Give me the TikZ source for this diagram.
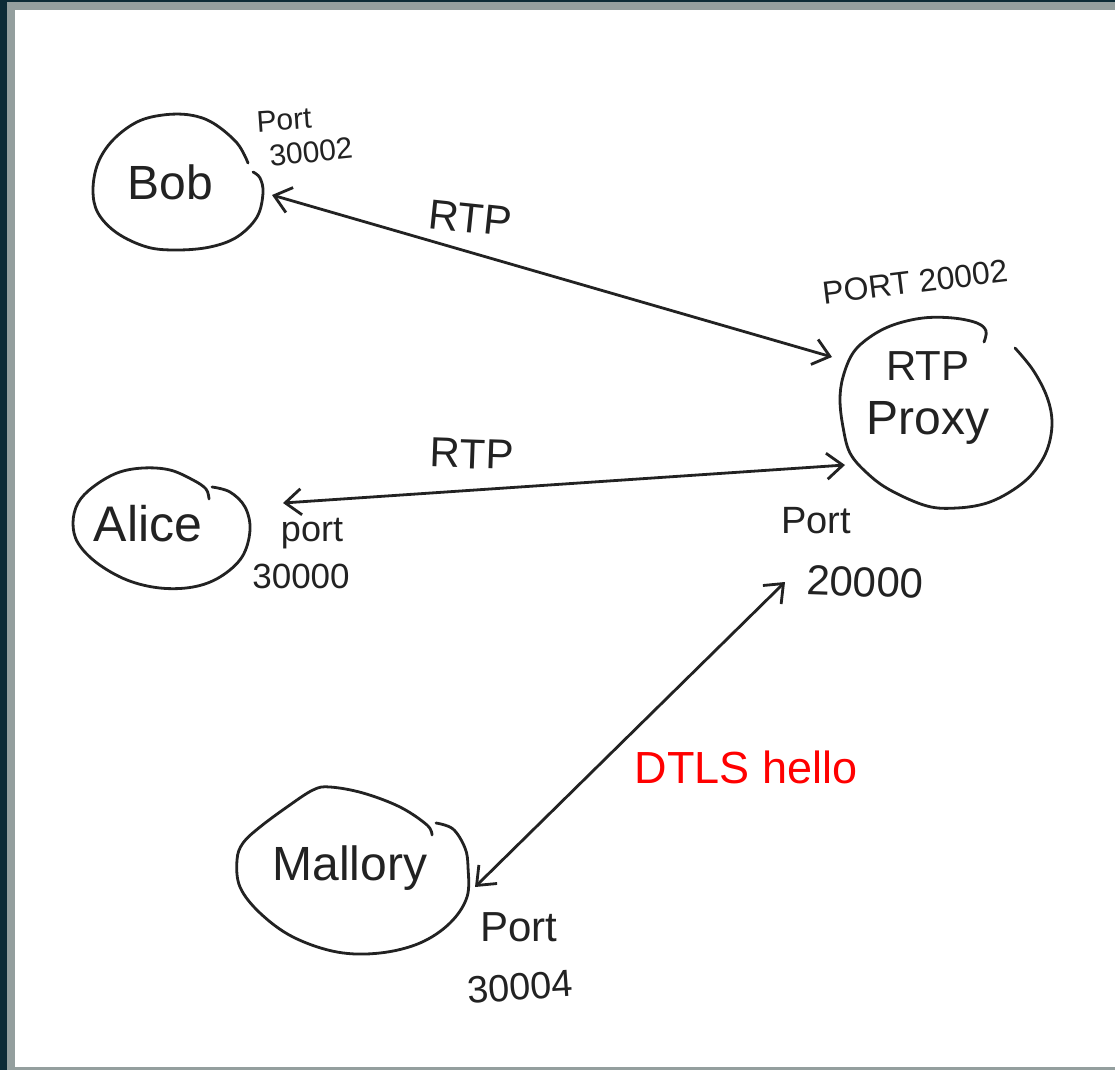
\documentclass[tikz,border=0pt]{standalone}
\usepackage{fontspec}
\setmainfont{Liberation Sans}
\usetikzlibrary{arrows.meta,calc,shapes.geometric}
\definecolor{ink}{HTML}{222222}
\definecolor{frameouter}{HTML}{0C2B36}
\definecolor{framegray}{HTML}{949F9E}
\definecolor{hello}{HTML}{FF0000}
\newcommand\hsz[1]{\fontsize{#1}{#1}\selectfont}

\begin{document}
\begin{tikzpicture}[x=1pt,y=-1pt,
  blob/.style={ellipse, draw=none, inner sep=0pt, text=ink},
  outline/.style={draw=ink, line width=2.8pt, line cap=round, line join=round},
  link/.style={draw=ink, line width=2.8pt, line cap=round,
    {Straight Barb[length=16pt,width=26pt]}-{Straight Barb[length=16pt,width=26pt]}},
  note/.style={text=ink, inner sep=0pt}]

% page frame
\useasboundingbox (0,0) rectangle (1115,1070);
\fill[frameouter] (0,0) rectangle (1115,1070);
\fill[framegray] (7,2) rectangle (1115,1070);
\fill[white] (15,10) rectangle (1115,1067);

% hosts
\node[blob, minimum width=174pt, minimum height=136pt, font=\hsz{48}] (bob) at (170,182) {Bob};
\node[blob, minimum width=178pt, minimum height=120pt, font=\hsz{50}] (alice) at (148,524) {Alice};
\node[blob, minimum width=232pt, minimum height=166pt, font=\hsz{48}] (mallory) at (350,868) {Mallory};
\node[blob, minimum width=212pt, minimum height=190pt, align=center, font=\hsz{48}] (proxy) at (928,398)
  {{\hsz{42}RTP}\\[6pt]Proxy};

% hand-drawn outlines
\draw[outline] plot[smooth, tension=0.6] coordinates {
  (248,163) (237,143) (213,123) (190,115) (163,115) (137,122) (113,140) (98,163)
  (93,190) (98,213) (117,233) (147,247) (177,250) (210,247) (237,237) (257,217)
  (263,193) (260,178) (253,172)};
\draw[outline] plot[smooth, tension=0.6] coordinates {
  (209,499) (206,489) (193,480) (170,470) (143,468) (117,473) (93,487) (78,503)
  (73,523) (78,543) (97,563) (127,580) (160,588) (193,587) (220,577) (242,557)
  (250,530) (245,507) (230,492) (212,487)};
\draw[outline] plot[smooth, tension=0.6] coordinates {
  (984,342) (986,331) (977,323) (953,318) (923,318) (893,325) (870,337) (853,353)
  (843,377) (840,400) (843,427) (850,453) (867,473) (890,490) (927,506) (957,508)
  (987,503) (1013,490) (1033,473) (1047,450) (1052,423) (1047,397) (1033,370) (1015,348)};
\draw[outline] plot[smooth, tension=0.6] coordinates {
  (432,835) (427,825) (400,807) (363,793) (330,787) (313,790) (287,807) (260,827)
  (243,843) (237,860) (240,887) (260,913) (293,937) (337,952) (380,953) (420,943)
  (450,923) (467,897) (468,867) (465,848) (453,829) (436,823)};

% connections
\draw[link] ($(bob.center)+(102,13)$) -- ($(proxy.center)+(-96,-41)$);
\draw[link] ($(alice.center)+(135,-21)$) -- ($(proxy.center)+(-83,67)$);
\draw[link] ($(mallory.center)+(125,19)$) -- ($(proxy.center)+(-143,184)$);

% link labels
\node[note, font=\hsz{42}, rotate=-6] (rtpa) at (470,218) {RTP};
\node[note, font=\hsz{42}, rotate=-2] (rtpb) at (472,454) {RTP};
\node[text=hello, inner sep=0pt, font=\hsz{45}, anchor=base] (dtls) at (746,783) {DTLS hello};

% port numbers
\node[note, font=\hsz{30}, rotate=4] (pbob) at (284,120) {Port};
\node[note, font=\hsz{30}, rotate=6] (nbob) at (311,152) {30002};
\node[note, font=\hsz{32}, rotate=7] (pproxyb) at (915,282) {PORT 20002};
\node[note, font=\hsz{36}] (palice) at (312,534) {port};
\node[note, font=\hsz{35}] (nalice) at (301,576) {30000};
\node[note, font=\hsz{38}] (pproxya) at (816,521) {Port};
\node[note, font=\hsz{42}, rotate=-2] (nproxya) at (865,582) {20000};
\node[note, font=\hsz{42}] (pmal) at (519,927) {Port};
\node[note, font=\hsz{38}, rotate=4] (nmal) at (520,987) {30004};
\end{tikzpicture}
\end{document}
